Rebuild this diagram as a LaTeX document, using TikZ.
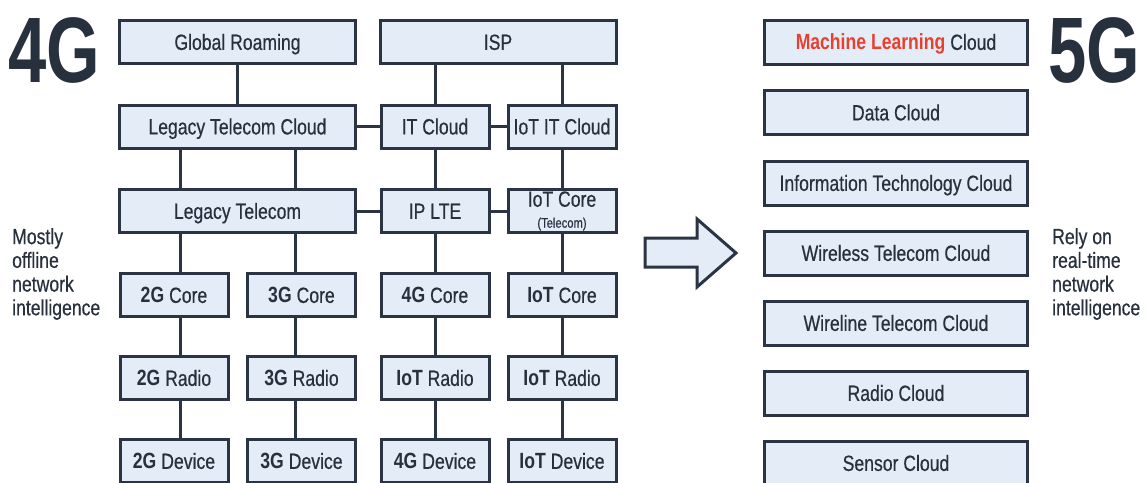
\documentclass[tikz,border=0pt]{standalone}
\usepackage{fontspec}
\setmainfont{Liberation Sans}[FakeStretch=0.8,UprightFeatures={FakeBold=0.5}]
\newfontfamily\bigfont{Liberation Sans}[FakeStretch=0.74]
\definecolor{ink}{HTML}{27303D}
\definecolor{boxline}{HTML}{2B3442}
\definecolor{boxfill}{HTML}{E3ECF7}
\definecolor{mlred}{HTML}{E8402F}
\tikzset{
	box/.style={draw=boxline,fill=boxfill,line width=3pt,inner sep=0pt,minimum height=43pt,text height=15.75pt,text depth=0pt,text=ink,font=\fontsize{22}{24}\selectfont},
	wide/.style={box,minimum width=236pt},
	narrow/.style={box,minimum width=108pt},
	cloud/.style={box,minimum width=263pt,minimum height=44pt},
	link/.style={draw=boxline,line width=3pt},
	side/.style={inner sep=0pt,align=left,text=ink,font=\fontsize{22}{23.7}\selectfont},
	gen/.style={inner sep=0pt,text=ink,font=\bigfont\bfseries\fontsize{93}{93}\selectfont}
}
\begin{document}
\begin{tikzpicture}[x=1pt,y=-1pt]
		\useasboundingbox (0,0) rectangle (1147,482);
		% 4G side
		\node[gen,anchor=base west] (four) at (8,82) {4G};
		\node[side,anchor=north west] (offline) at (12,228) {Mostly\\offline\\network\\intelligence};
		\node[wide] (roam) at (237.5,42) {Global Roaming};
		\node[wide] (isp) at (498,42) {ISP};
		\node[wide] (ltc) at (237.5,126.5) {Legacy Telecom Cloud};
		\node[narrow] (itc) at (435,126.5) {IT Cloud};
		\node[narrow] (iotc) at (562,126.5) {IoT IT Cloud};
		\node[wide] (lt) at (237.5,211) {Legacy Telecom};
		\node[narrow] (iplte) at (435,211) {IP LTE};
		\node[narrow,align=center,text height={},text depth={}] (iotct) at (562,211) {IoT Core\\[-3pt]{\fontsize{14}{16}\selectfont(Telecom)}};
		\node[narrow] (core2) at (174,295) {\textbf{2G} Core};
		\node[narrow] (core3) at (301.5,295) {\textbf{3G} Core};
		\node[narrow] (core4) at (435,295) {\textbf{4G} Core};
		\node[narrow] (coreiot) at (562,295) {\textbf{IoT} Core};
		\node[narrow] (radio2) at (174,378) {\textbf{2G} Radio};
		\node[narrow] (radio3) at (301.5,378) {\textbf{3G} Radio};
		\node[narrow] (radio4) at (435,378) {\textbf{IoT} Radio};
		\node[narrow] (radioiot) at (562,378) {\textbf{IoT} Radio};
		\node[narrow] (dev2) at (174,461) {\textbf{2G} Device};
		\node[narrow] (dev3) at (301.5,461) {\textbf{3G} Device};
		\node[narrow] (dev4) at (435,461) {\textbf{4G} Device};
		\node[narrow] (deviot) at (562,461) {\textbf{IoT} Device};
		% links
		\coordinate (ax) at (180,0);
		\coordinate (bx) at (295,0);
		\draw[link] (roam) -- (ltc);
		\draw[link] (isp.south -| itc) -- (itc);
		\draw[link] (isp.south -| iotc) -- (iotc);
		\draw[link] (ltc) -- (itc) -- (iotc);
		\draw[link] (lt) -- (iplte) -- (iotct);
		\draw[link] (itc) -- (iplte) -- (core4) -- (radio4) -- (dev4);
		\draw[link] (iotc) -- (iotct) -- (coreiot) -- (radioiot) -- (deviot);
		\draw[link] (ltc.south -| ax) -- (lt.north -| ax);
		\draw[link] (lt.south -| ax) -- (core2.north -| ax);
		\draw[link] (core2.south -| ax) -- (radio2.north -| ax);
		\draw[link] (radio2.south -| ax) -- (dev2.north -| ax);
		\draw[link] (ltc.south -| bx) -- (lt.north -| bx);
		\draw[link] (lt.south -| bx) -- (core3.north -| bx);
		\draw[link] (core3.south -| bx) -- (radio3.north -| bx);
		\draw[link] (radio3.south -| bx) -- (dev3.north -| bx);
		% arrow
		\draw[link,fill=boxfill,line join=miter] (645,238) -- (697,238) -- (697,219) -- (736,253) -- (697,287) -- (697,267) -- (645,267) -- cycle;
		% 5G side
		\node[cloud] (ml) at (896,42) {\textcolor{mlred}{\textbf{Machine Learning}} Cloud};
		\node[cloud] (data) at (896,112.5) {Data Cloud};
		\node[cloud] (info) at (896,183) {Information Technology Cloud};
		\node[cloud] (wless) at (896,253) {Wireless Telecom Cloud};
		\node[cloud] (wline) at (896,323) {Wireline Telecom Cloud};
		\node[cloud] (radio) at (896,393) {Radio Cloud};
		\node[cloud] (sensor) at (896,463) {Sensor Cloud};
		\node[gen,anchor=base east] (five) at (1140,82) {5G};
		\node[side,anchor=north west] (realtime) at (1052,228) {Rely on\\real-time\\network\\intelligence};
	\end{tikzpicture}
\end{document}
